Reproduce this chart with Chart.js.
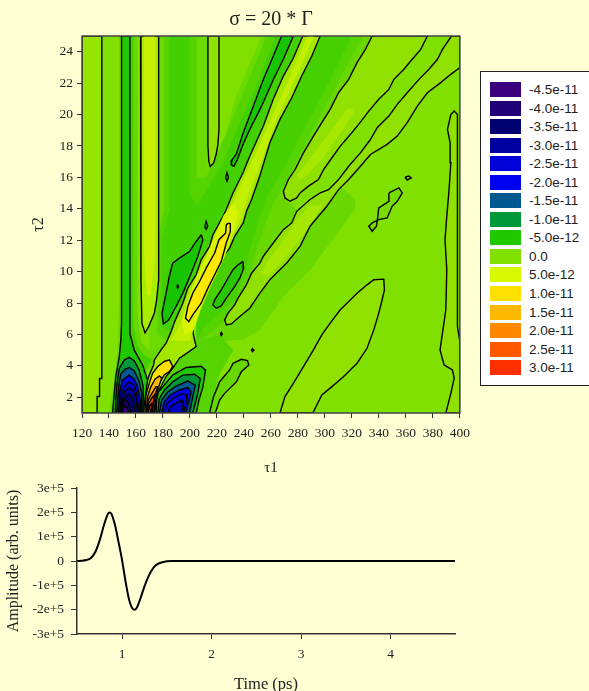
<!DOCTYPE html>
<html>
<head>
<meta charset="utf-8">
<script src="https://cdn.jsdelivr.net/npm/chart.js@4"></script>
<style>
  html, body { margin: 0; padding: 0; background: #ffffd4; overflow: hidden; }
  #page { position: relative; width: 589px; height: 691px; overflow: hidden; }
  #contour { position: absolute; left: 0; top: 0; }
  #pulse { position: absolute; left: 0; top: 473px; }
  #legend { position: absolute; left: 480px; top: 71px; width: 130px; height: 313px; background: #fff; border: 1px solid #222; font: 13.5px "Liberation Sans", sans-serif; color: #222; }
  #legend div { position: absolute; left: 9px; height: 15px; line-height: 15px; white-space: nowrap; }
  #legend i { display: inline-block; width: 31px; height: 15px; margin-right: 8px; vertical-align: top; }
</style>
</head>
<body>
<div id="page">
  <canvas id="contour" width="477" height="477" style="width:477px;height:477px"></canvas>
  <canvas id="pulse" width="589" height="222" style="width:589px;height:222px"></canvas>
  <div id="legend"></div>
</div>
<script>
// legend levels
const legendLabels = ["-4.5e-11", "-4.0e-11", "-3.5e-11", "-3.0e-11", "-2.5e-11", "-2.0e-11", "-1.5e-11", "-1.0e-11", "-5.0e-12", "0.0", "5.0e-12", "1.0e-11", "1.5e-11", "2.0e-11", "2.5e-11", "3.0e-11"];
const legendColors = ["#3a007e", "#200078", "#000070", "#0000a0", "#0000d8", "#0000f0", "#005890", "#009838", "#20c800", "#80e000", "#d8f800", "#ffe000", "#ffb800", "#ff8800", "#ff5800", "#ff3000"];

// axes
const tau1Ticks = [120, 140, 160, 180, 200, 220, 240, 260, 280, 300, 320, 340, 360, 380, 400];
const tau2Ticks = [2, 4, 6, 8, 10, 12, 14, 16, 18, 20, 22, 24];
const timeTicks = [1, 2, 3, 4];
const ampTicks = [-300000, -200000, -100000, 0, 100000, 200000, 300000];
const ampLabels = ["-3e+5", "-2e+5", "-1e+5", "0", "1e+5", "2e+5", "3e+5"];

// pulse trace
const pulseTime = [0.5, 0.55, 0.6, 0.65, 0.7, 0.75, 0.8, 0.84, 0.86, 0.88, 0.92, 0.96, 1.0, 1.04, 1.08, 1.12, 1.14, 1.16, 1.2, 1.25, 1.3, 1.35, 1.4, 1.45, 1.5, 1.55, 2, 3, 4, 4.72];
const pulseAmp = [0, 1000, 4000, 12000, 36000, 85000, 150000, 192000, 200000, 195000, 150000, 80000, 5000, -85000, -160000, -197000, -200000, -195000, -160000, -105000, -60000, -28000, -12000, -5000, -1000, 0, 0, 0, 0, 0];

// contours, [tau1, tau2]
const plotField = [[120,1],[400,1],[400,25],[120,25]];
const wedgeRight = [[296,25],[335,25],[312,21.4],[285,17.6],[270,15],[272,14.5],[285,13.5],[310,15.5],[322.5,14.6],[322.5,14],[289,10.1],[270,8.5],[252,6.3],[240,5.7],[215,5.5],[205,5.5],[204.6,5.1],[210,8.5],[230,11.5],[250,16],[275.4,21]];
const wedgeRightMid = [[296.5,25],[328,25],[307,21.6],[288,18.5],[272,15.8],[262,14.4],[254,12.6],[246,10.4],[238,8.3],[226,6.9],[212,5.9],[205,5.5],[204,8],[218,10.1],[233,12.2],[246,14.6],[259,18.2],[275,21.1]];
const wedgeRightDark = [[296.5,25],[320,25],[301.4,21.8],[284,19],[268,16.3],[256.8,14.8],[248,12.5],[240,10],[234.4,8.4],[222,7.35],[209.6,6.4],[205,5.6],[204,8],[218,10.1],[233,12.2],[246,14.6],[259,18.2],[275,21.1]];
const lobeHalo = [[214,1],[222,3.5],[232,5],[222,6],[205,5.6],[172,5],[172,1]];
const wedgeLeft = [[170,25],[213,25],[213,16.8],[220,16.8],[234.4,21.2],[253,25],[283.6,25],[254,19],[232,15],[217,12.3],[204,9.8],[194,8],[181,5],[170,5]];
const wedgeLeftMid = [[181,25],[205,25],[205,16],[212,16],[228,19],[240,21.5],[253,24.2],[256,25],[283.6,25],[254,19],[232,15],[217,12.3],[204,9.8],[194,8],[186,5.6],[176,6],[176,12],[181,14]];
const wedgeLeftDark = [[184.8,25],[199.6,25],[199.6,15],[205,14.2],[224.4,16.9],[236.8,19.5],[249.2,21.8],[261.6,24.6],[262.5,25],[283.6,25],[254,19],[232,15],[217,12.3],[204,9.8],[194,8],[186,6.2],[179,6.5],[179,12],[184.8,14]];
const tubeHaloLeft = [[147.5,25],[149.3,25],[149.3,1],[140,1],[144,3.3],[146.5,5],[147.5,8]];
const tubeHaloOuter = [[155,25],[161,25],[161,7.5],[164,5.5],[170,5],[178,5],[172,4],[162,3],[155,5]];
const tubeHaloInner = [[155,25],[158,25],[158,6.5],[161,5.3],[167,4.6],[172,4.4],[165,3.5],[155,5]];

const sideLeft = [[120,25],[134.7,25],[134.7,3.2],[133,3.2],[133,2.05],[131.2,2.05],[131.2,1],[120,1]];
const topLobe = [[213.3,25],[213.3,18],[214,17],[215,16.7],[217.5,16.9],[219.5,17.5],[220.7,18.1],[221.5,19.05],[221.5,25]];
const bandUpper = [[335,25],[330,24.15],[323.8,23.3],[317.6,22.24],[310.1,21.39],[303.9,20.33],[297.7,19.48],[291.5,18.63],[284.1,17.56],[277.9,16.5],[272.9,15.86],[269.2,15.12],[270.4,14.69],[274.1,14.48],[279.1,14.69],[281.6,15.01],[287.8,15.44],[295.2,15.86],[299,16.5],[305.2,17.25],[311.4,17.99],[318.8,18.73],[325,19.37],[332.5,20.22],[339.9,20.97],[347.4,21.6],[351.1,22.24],[358.5,22.88],[364.7,23.52],[371,24.15],[375.9,25]];
const bandUpperCore = [[321.3,20.43],[316.3,20.33],[308.9,19.48],[301.4,18.63],[294,17.78],[286.5,16.93],[279.1,16.18],[280.3,15.86],[286.5,16.08],[292.8,16.71],[299,17.25],[305.2,18.1],[312.6,18.95],[318.8,19.8],[321.8,20.22]];
const bandLower = [[393.8,25],[387.1,24.15],[383.4,23.52],[377.1,22.88],[369.7,22.24],[361,21.39],[353.6,20.65],[347.4,19.9],[338.7,19.16],[333.7,18.41],[326.3,17.56],[317.6,16.71],[310.1,15.86],[302.7,15.22],[296.5,15.01],[289,14.59],[279.1,13.84],[275.4,13.1],[269.2,12.67],[261.7,11.82],[254.3,10.97],[251.8,10.54],[245.6,9.9],[241.8,9.16],[235.6,8.31],[233.1,7.88],[228.2,7.35],[225.7,6.93],[227,6.61],[230.7,6.67],[236.9,7.14],[244.3,7.67],[251.8,8.63],[259.2,9.48],[271.7,10.55],[281.6,11.61],[289,12.89],[301.4,14.16],[310.1,15.22],[317.6,15.86],[326.3,16.71],[333.7,17.46],[346.1,18.1],[353.6,18.63],[361,19.48],[368.5,20.54],[375.9,21.39],[385.8,22.03],[393.3,22.56],[400,22.99],[400,25]];
const bandLowerCore = [[299,14.27],[289,14.16],[279.1,13.31],[272.9,12.46],[264.2,11.4],[255.5,10.44],[253,9.8],[259.2,9.8],[269.2,10.76],[279.1,11.82],[286.5,12.67],[292.8,13.52]];
const bottomLobe = [[266.7,1],[270.4,2.04],[276.6,2.89],[284.1,3.95],[291.5,5.02],[297.7,5.97],[303.9,6.72],[311.4,7.57],[323.8,8.63],[331.2,9.16],[336.2,9.48],[343.6,9.52],[344.1,8.84],[342.4,8.21],[339.9,7.36],[336.2,6.29],[331.2,5.12],[323.8,4.17],[313.9,3.32],[305.2,2.68],[297.7,2.15],[291,1]];
const edgeLobe = [[389.6,1],[393.3,2.25],[395.8,3.21],[394.5,3.74],[388.3,4.06],[385.3,5.02],[387.1,6.08],[389.6,7.57],[390.3,10.12],[389,12.04],[390.3,13.52],[392,15.22],[393.3,16.93],[392.8,18.2],[390.8,19.05],[393.3,20],[395.8,20.22],[398.2,20],[398.2,18.63],[398.2,10.12],[398.2,6.5],[400,5.55],[400,1]];
const smallLobe = [[214.5,1],[217.5,2.04],[222,2.99],[229.4,3.74],[231.9,4.16],[238.1,4.42],[242.6,4.33],[243.6,4.06],[238.1,3.63],[234.4,2.99],[225.7,2.25],[222,1.83],[219,1.08],[218.5,1]];
const islandLoop = [[347.4,15.01],[354.8,15.33],[357.3,15.01],[353.6,14.48],[349.8,14.16],[346.1,13.42],[339.9,13.31],[335,13.1],[332.5,12.89],[335,12.57],[338.2,12.89],[339.2,13.52],[339.9,14.06],[347.4,14.48]];
const islandEye = [[359.3,16.01],[362.2,16.08],[364,15.97],[361,15.82]];

const ridge = [[283.6,25],[276.6,23.6],[269.2,22.45],[261.7,20.97],[254.3,19.26],[244.3,17.35],[239.3,16.29],[231.9,15.01],[226.9,13.95],[224.5,13.52],[217,12.35],[214.5,11.6],[208.3,10.75],[204.6,9.8],[198.4,8.95],[194.7,7.99],[189.2,6.93],[186,6.18],[182.3,5.44],[178.6,5.02],[173.6,4.38],[173.1,4.07],[169.9,3.43],[167.4,2.79],[165.6,2.05],[164.9,1],[173.6,1],[174.8,1.62],[177.3,2.47],[182.3,3.32],[187.2,3.85],[192.2,4.49],[199.6,4.92],[204.6,5.23],[203.4,5.65],[202.1,6.18],[205.8,7.56],[209.6,8.52],[213.3,9.26],[218.3,10.12],[224.5,10.97],[229.4,11.5],[233.1,12.24],[239.4,13.09],[242.3,13.94],[245.6,14.58],[251.8,16.1],[259.2,18.2],[266.7,19.69],[275.4,21.07],[282.8,22.45],[290.3,23.73],[296.5,25]];
const ridgeCore = [[287,25],[272,22],[258,19.3],[246,17],[236,15.2],[230,14],[222,12.5],[214,11],[207,9.5],[200,8],[192,6.5],[185,5.6],[200,5.6],[205,7],[209,8.5],[216,10],[225,11.5],[236,13],[244,15],[255,17.5],[264,19.7],[272,21.2],[280,22.7],[292,25]];
const ridgeHalo = [[232,14.3],[225,13.6],[218,12.2],[212,11],[205,9.7],[199,8.4],[194,6.9],[196,6],[203,6.3],[208,7.6],[214,8.8],[220,9.9],[226,11],[232,12.5],[236,13.8]];
const ridgeCrest = [[228.7,13.09],[227,12.99],[226.4,12.45],[221.5,12.03],[218.3,11.18],[212,10.22],[207.1,9.37],[202.1,8.63],[198.4,7.78],[196.7,7.03],[199.1,6.82],[202.1,7.25],[208.3,7.99],[213.3,8.95],[218.3,9.8],[223.2,10.65],[226.9,11.82],[229.9,12.56],[229.9,13.05]];
const lensUpper = [[267.9,25],[261.6,23.7],[254.2,22.2],[246.8,20.5],[239.3,18.8],[236.3,18],[234.4,17.5],[231.1,17.1],[230.6,16.8],[232.6,16.7],[234.9,17.1],[239.3,18.1],[244.3,19.05],[251.7,20.3],[254.2,20.75],[261.6,22.2],[269.1,23.5],[276.6,25]];
const lensLeft = [[208.3,12.35],[204.6,11.92],[199.6,11.28],[192.2,10.86],[187.2,10.54],[184.7,9.69],[182.3,8.63],[179.3,7.35],[180.3,6.67],[184.3,6.93],[189.7,7.78],[194.7,8.63],[200.9,9.9],[205.8,10.97],[209.6,12.03]];
const lensRight = [[239.4,10.65],[235.6,10.43],[231.9,10.12],[228.2,9.58],[223.2,8.84],[218.3,8.2],[217,7.88],[219.5,7.67],[223.2,7.82],[226.9,8.31],[233.1,9.05],[236.9,9.58],[239.8,10.22]];
const dotA = [[211,12.85],[212,13.2],[213.2,12.9],[212,12.7]];
const dotB = [[226.4,16],[227.4,16.3],[228.5,16],[227.4,15.75]];
const dotC = [[190.3,9.05],[190.9,9.15],[191.5,9.05],[190.9,8.95]];
const dotD = [[222.4,6.03],[223.2,6.13],[224,6.03],[223.2,5.93]];
const dotE = [[245.4,5],[246.3,5.1],[247.4,5],[246.3,4.9]];

const tongue = [[163.4,25],[163.7,9.48],[164.4,6.71],[166.7,6.1],[169.4,6.5],[173.6,7.35],[175.3,8.2],[176.8,9.48],[176.8,25]];
const tongueCore = [[166,25],[166,11],[168,8.5],[171,8.5],[174,11],[174,25]];

const neg05L = [[149.3,25],[155.5,25],[155.5,6.07],[158.7,5],[164.9,4.05],[168.6,3.09],[166.9,2.02],[165.4,1],[142.6,1],[145,3.3],[147.6,4.58],[148.8,5.65],[149.3,6.71]];
const neg10L = [[144.6,1],[145.6,2.66],[147.6,3.84],[151.3,4.37],[155,4.54],[158.7,4.33],[162.4,3.73],[165.4,2.66],[165.2,1]];
const neg15L = [[145.8,1],[147.1,2.66],[148.8,3.5],[152,3.8],[155,3.9],[158.7,3.69],[162,3.09],[164.4,2.24],[164.2,1]];
const neg20L = [[147.1,1],[148.1,2.45],[150,3.09],[155,3.41],[158.7,3.15],[161.2,2.66],[163.2,1.81],[163.2,1]];
const neg25L = [[148.3,1],[149,2.13],[151.3,2.71],[155,2.98],[158.2,2.77],[160.5,2.24],[162.2,1]];
const neg30L = [[149,1],[150,1.92],[152,2.41],[155,2.62],[158,2.41],[160,1.92],[161.2,1]];
const neg35L = [[149.5,1],[150.5,1.71],[152.5,2.07],[154.5,2.2],[157,2.03],[158.5,1.6],[159.5,1]];
const neg40L = [[149.5,1],[150,1.5],[151.5,1.85],[154,1.7],[156.5,1]];
const neg45L = [[149.8,1],[150.5,1.3],[152,1.5],[153.5,1.3],[155,1]];

const neg05R = [[174.8,1],[175.3,1.81],[176.6,2.34],[179.8,2.66],[187.2,3.41],[197.2,3.9],[208.3,3.98],[211.5,3.73],[209.6,2.66],[206.6,1.81],[204.6,1]];
const neg10R = [[176.1,1],[177.3,1.92],[181,2.45],[187.2,2.98],[194.7,3.41],[203.4,3.47],[207.6,3.2],[205.8,2.24],[202.1,1]];
const neg15R = [[177.3,1],[179,1.81],[183.5,2.34],[189.7,2.71],[198.4,3.03],[203.9,2.77],[202.1,2.03],[199.6,1]];
const neg20R = [[179,1],[181,1.71],[185.3,2.13],[191.7,2.45],[198.4,2.62],[200.9,2.34],[199.1,1.71],[197.2,1]];
const neg25R = [[181,1],[183,1.6],[187.2,1.92],[193,2.2],[197.7,2.2],[197.2,1.71],[195.2,1]];
const neg30R = [[183.5,1],[185.3,1.39],[189.7,1.64],[194.2,1.81],[195.2,1.49],[193.4,1]];

const pos10 = [[166.6,1],[167.4,2.15],[169.9,2.9],[172.3,3.53],[176.1,3.96],[181,4.28],[184.8,4.38],[187.2,3.96],[184.8,3.64],[181,3.43],[178.6,3.11],[175.6,2.47],[173.6,1.62],[173.1,1]];
const pos15 = [[167.4,1],[168.6,2.05],[171.1,2.68],[174.1,3.15],[177.3,3.36],[179.1,3.22],[177.3,2.79],[175.3,2.15],[173,1]];
const pos20 = [[167.9,1],[169.1,1.83],[171.1,2.15],[174.8,2.68],[176.1,2.68],[174.3,2.15],[172.1,1]];
const pos25 = [[168.4,1],[169.6,1.62],[171.6,1.94],[173.6,2.15],[173.3,1.88],[171.4,1]];
const pos30 = [[169.1,1],[170.1,1.45],[171.6,1.62],[171.6,1.41],[170.6,1]];

// [points, fill colour, black contour or not], painted first to last
const layers = [
  [plotField, "#80e000", false],
  [wedgeRight, "#68d800", false],
  [wedgeRightMid, "#56d400", false],
  [wedgeRightDark, "#46d000", false],
  [lobeHalo, "#56d400", false],
  [wedgeLeft, "#6ada00", false],
  [wedgeLeftMid, "#56d400", false],
  [wedgeLeftDark, "#42d000", false],
  [tubeHaloLeft, "#66d800", false],
  [tubeHaloOuter, "#66d800", false],
  [tubeHaloInner, "#44d000", false],
  [sideLeft, "#96e400", true],
  [topLobe, "#90e000", true],
  [bandUpper, "#90e000", true],
  [bandUpperCore, "#a6e800", false],
  [bandLower, "#90e000", true],
  [bandLowerCore, "#a6e800", false],
  [bottomLobe, "#90e000", true],
  [edgeLobe, "#90e000", true],
  [smallLobe, "#66d800", true],
  [islandLoop, "#78dc00", true],
  [islandEye, "#78dc00", true],
  [ridge, "#a4e800", true],
  [ridgeCore, "#c0f000", false],
  [ridgeHalo, "#d8f400", false],
  [ridgeCrest, "#ffe800", true],
  [lensUpper, "#18c400", true],
  [lensLeft, "#18c400", true],
  [lensRight, "#28c800", true],
  [dotA, "#20c800", true],
  [dotB, "#20c800", true],
  [dotC, "#000000", true],
  [dotD, "#000000", true],
  [dotE, "#000000", true],
  [tongue, "#a8ec00", true],
  [tongueCore, "#c8f000", false],
  [neg05L, "#20c800", true],
  [neg10L, "#009838", true],
  [neg15L, "#005890", true],
  [neg20L, "#0000f0", true],
  [neg25L, "#0000d8", true],
  [neg30L, "#0000a0", true],
  [neg35L, "#000070", true],
  [neg40L, "#200078", true],
  [neg45L, "#3a007e", true],
  [neg05R, "#20c800", true],
  [neg10R, "#009838", true],
  [neg15R, "#005890", true],
  [neg20R, "#0000f0", true],
  [neg25R, "#0000e0", true],
  [neg30R, "#0000c0", true],
  [pos10, "#ffe000", true],
  [pos15, "#ffb800", true],
  [pos20, "#ff8800", true],
  [pos25, "#ff5800", true],
  [pos30, "#ff3000", true],
];

const serif = "'Liberation Serif', serif";
const inkColor = "#222";

// chart area frame, all four sides
const framePlugin = {
  id: "frame",
  afterDatasetsDraw(chart) {
    const a = chart.chartArea;
    const c = chart.ctx;
    c.save();
    c.strokeStyle = "#444";
    c.lineWidth = 1.5;
    c.strokeRect(a.left, a.top, a.right - a.left, a.bottom - a.top);
    c.restore();
  },
};

new Chart(document.getElementById("contour"), {
  type: "scatter",
  plugins: [framePlugin],
  data: {
    datasets: layers.map((layer, i) => ({
      data: layer[0].concat([layer[0][0]]).map((p) => ({ x: p[0], y: p[1] })),
      showLine: true,
      fill: "shape",
      backgroundColor: layer[1],
      borderColor: layer[2] ? "#000" : "transparent",
      borderWidth: layer[2] ? 1.4 : 0,
      pointRadius: 0,
      tension: 0,
      order: layers.length - i,
    })),
  },
  options: {
    responsive: false,
    animation: false,
    events: [],
    plugins: {
      legend: { display: false },
      tooltip: { enabled: false },
      title: {
        display: true,
        fullSize: false,
        text: "σ = 20 * Γ",
        color: inkColor,
        font: { family: serif, size: 20, weight: "normal" },
        padding: { top: 8, bottom: 4 },
      },
    },
    scales: {
      x: {
        type: "linear",
        min: 120,
        max: 400,
        afterFit: (s) => { s.height = 64; },
        afterBuildTicks: (s) => { s.ticks = tau1Ticks.map((v) => ({ value: v })); },
        grid: { drawOnChartArea: false, tickLength: 5, tickColor: "#333" },
        border: { display: false },
        ticks: { color: inkColor, maxRotation: 0, autoSkip: false, font: { family: serif, size: 13.5 }, padding: 7 },
        title: { display: true, text: "τ1", color: inkColor, font: { family: serif, size: 15 }, padding: 0 },
      },
      y: {
        min: 1,
        max: 25,
        afterFit: (s) => { s.width = 82; },
        afterBuildTicks: (s) => { s.ticks = tau2Ticks.map((v) => ({ value: v })); },
        grid: { drawOnChartArea: false, tickLength: 5, tickColor: "#333" },
        border: { display: false },
        ticks: { color: inkColor, autoSkip: false, font: { family: serif, size: 13.5 }, padding: 4 },
        title: { display: true, text: "τ2", color: inkColor, font: { family: serif, size: 16 }, padding: { top: 29, bottom: 0 } },
      },
    },
  },
});

new Chart(document.getElementById("pulse"), {
  type: "line",
  data: {
    datasets: [{
      data: pulseTime.map((t, i) => ({ x: t, y: pulseAmp[i] })),
      borderColor: "#000",
      borderWidth: 2,
      pointRadius: 0,
      cubicInterpolationMode: "monotone",
    }],
  },
  options: {
    responsive: false,
    animation: false,
    events: [],
    layout: { padding: { top: 12, right: 134 } },
    plugins: { legend: { display: false }, tooltip: { enabled: false } },
    scales: {
      x: {
        type: "linear",
        min: 0.497,
        max: 4.72,
        afterFit: (s) => { s.height = 61; },
        afterBuildTicks: (s) => { s.ticks = timeTicks.map((v) => ({ value: v })); },
        grid: { drawOnChartArea: false, tickLength: 5, tickColor: "#333" },
        border: { color: "#333", width: 1.5 },
        ticks: { color: inkColor, maxRotation: 0, font: { family: serif, size: 13.5 }, padding: 7 },
        title: { display: true, text: "Time (ps)", color: inkColor, font: { family: serif, size: 16.5 }, padding: 0 },
      },
      y: {
        min: -300000,
        max: 300000,
        afterFit: (s) => { s.width = 77; },
        afterBuildTicks: (s) => { s.ticks = ampTicks.map((v) => ({ value: v })); },
        grid: { drawOnChartArea: false, tickLength: 6, tickColor: "#333" },
        border: { color: "#333", width: 1.5 },
        ticks: {
          color: inkColor,
          autoSkip: false,
          font: { family: serif, size: 13.5 },
          padding: 7,
          callback: (v) => ampLabels[ampTicks.indexOf(v)],
        },
        title: { display: true, text: "Amplitude (arb. units)", color: inkColor, font: { family: serif, size: 16 }, padding: { top: 4, bottom: 0 } },
      },
    },
  },
});

// legend rows, the level labels are plain text
const legendBox = document.getElementById("legend");
const legendTops = [10, 29, 47, 66, 84, 103, 121, 140, 158, 177, 195, 214, 233, 251, 270, 288];
legendLabels.forEach((label, i) => {
  const row = document.createElement("div");
  row.style.top = legendTops[i] + "px";
  const swatch = document.createElement("i");
  swatch.style.background = legendColors[i];
  row.appendChild(swatch);
  row.appendChild(document.createTextNode(label));
  legendBox.appendChild(row);
});
</script>
</body>
</html>
